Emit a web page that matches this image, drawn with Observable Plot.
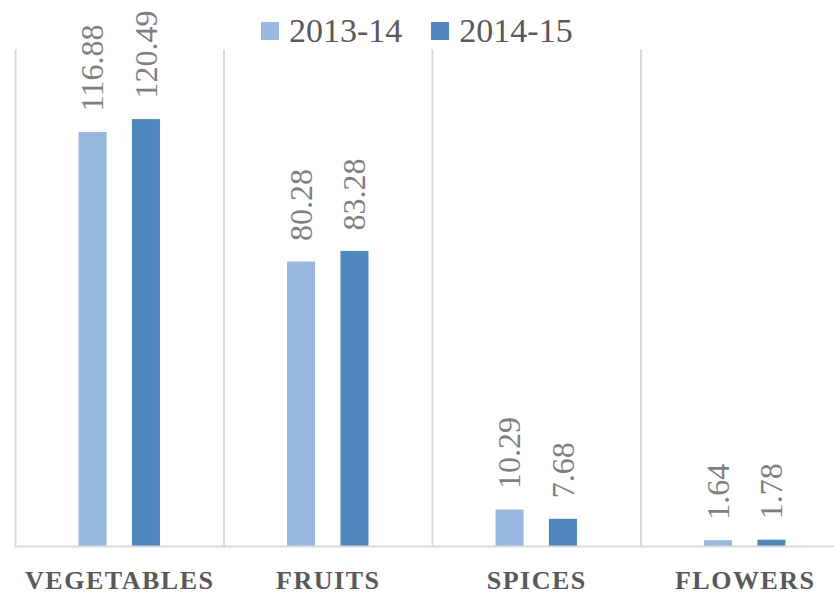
<!DOCTYPE html>
<html>
<head>
<meta charset="utf-8">
<script src="https://cdn.jsdelivr.net/npm/d3@7"></script>
<script src="https://cdn.jsdelivr.net/npm/@observablehq/plot@0.6"></script>
<style>
  html, body { margin: 0; padding: 0; background: #fff; overflow: hidden; }
  #wrap { position: relative; width: 834px; height: 596px; overflow: hidden; }
  #legend { position: absolute; top: 12px; left: 261px; display: flex; align-items: center;
    font-family: "Liberation Serif", "DejaVu Serif", serif; font-size: 34px; color: #595959; }
  #legend .item { display: flex; align-items: center; margin-right: 29px; }
  #legend .sw { width: 18px; height: 18px; margin-right: 10px; }
  g[aria-label="fx-axis tick label"] text { letter-spacing: 1.5px; }
</style>
</head>
<body>
<div id="wrap"><div id="legend"></div></div>
<script>
const categories = ["VEGETABLES", "FRUITS", "SPICES", "FLOWERS"];
const series = ["2013-14", "2014-15"];
const values2013 = [116.88, 80.28, 10.29, 1.64];
const values2014 = [120.49, 83.28, 7.68, 1.78];
const colors = ["#97B9E0", "#4E87BD"];

const seriesValues = [values2013, values2014];
const data = [];
categories.forEach((c, i) => {
  series.forEach((s, j) => data.push({category: c, series: s, value: seriesValues[j][i]}));
});

const legend = document.getElementById("legend");
series.forEach((s, j) => {
  const item = document.createElement("div");
  item.className = "item";
  item.innerHTML = `<div class="sw" style="background:${colors[j]}"></div><span>${s}</span>`;
  legend.appendChild(item);
});

const chart = Plot.plot({
  width: 849,
  height: 596,
  marginLeft: 15,
  marginRight: 0,
  marginTop: 50,
  marginBottom: 50,
  facet: {marginTop: 0, marginRight: 0, marginBottom: 0, marginLeft: 0},
  style: {fontFamily: "'Liberation Serif', 'DejaVu Serif', serif", background: "transparent", maxWidth: "none"},
  fx: {domain: categories, padding: 0, label: null, axis: null, round: false},
  x: {domain: series, paddingInner: 0.475, paddingOuter: 1.19, axis: null, round: false},
  y: {domain: [0, 140], axis: null},
  color: {domain: series, range: colors},
  marks: [
    Plot.frame({anchor: "left", stroke: "#d9d9d9", strokeWidth: 2}),
    Plot.barY(data, {fx: "category", x: "series", y: "value", fill: "series"}),
    Plot.ruleY([0], {stroke: "#d9d9d9", strokeWidth: 2}),
    Plot.text(data, {fx: "category", x: "series", y: "value", text: d => d.value.toFixed(2),
      rotate: -90, textAnchor: "start", dy: -21, fill: "#7f7f7f", fontSize: 32}),
    Plot.axisFx({anchor: "bottom", tickSize: 0, tickPadding: 24, fontSize: 26, fontWeight: "bold",
      fill: "#595959", label: null})
  ]
});
chart.style.position = "absolute";
chart.style.left = "0px";
chart.style.top = "0px";
chart.style.maxWidth = "none";
document.getElementById("wrap").insertBefore(chart, legend);
</script>
</body>
</html>
